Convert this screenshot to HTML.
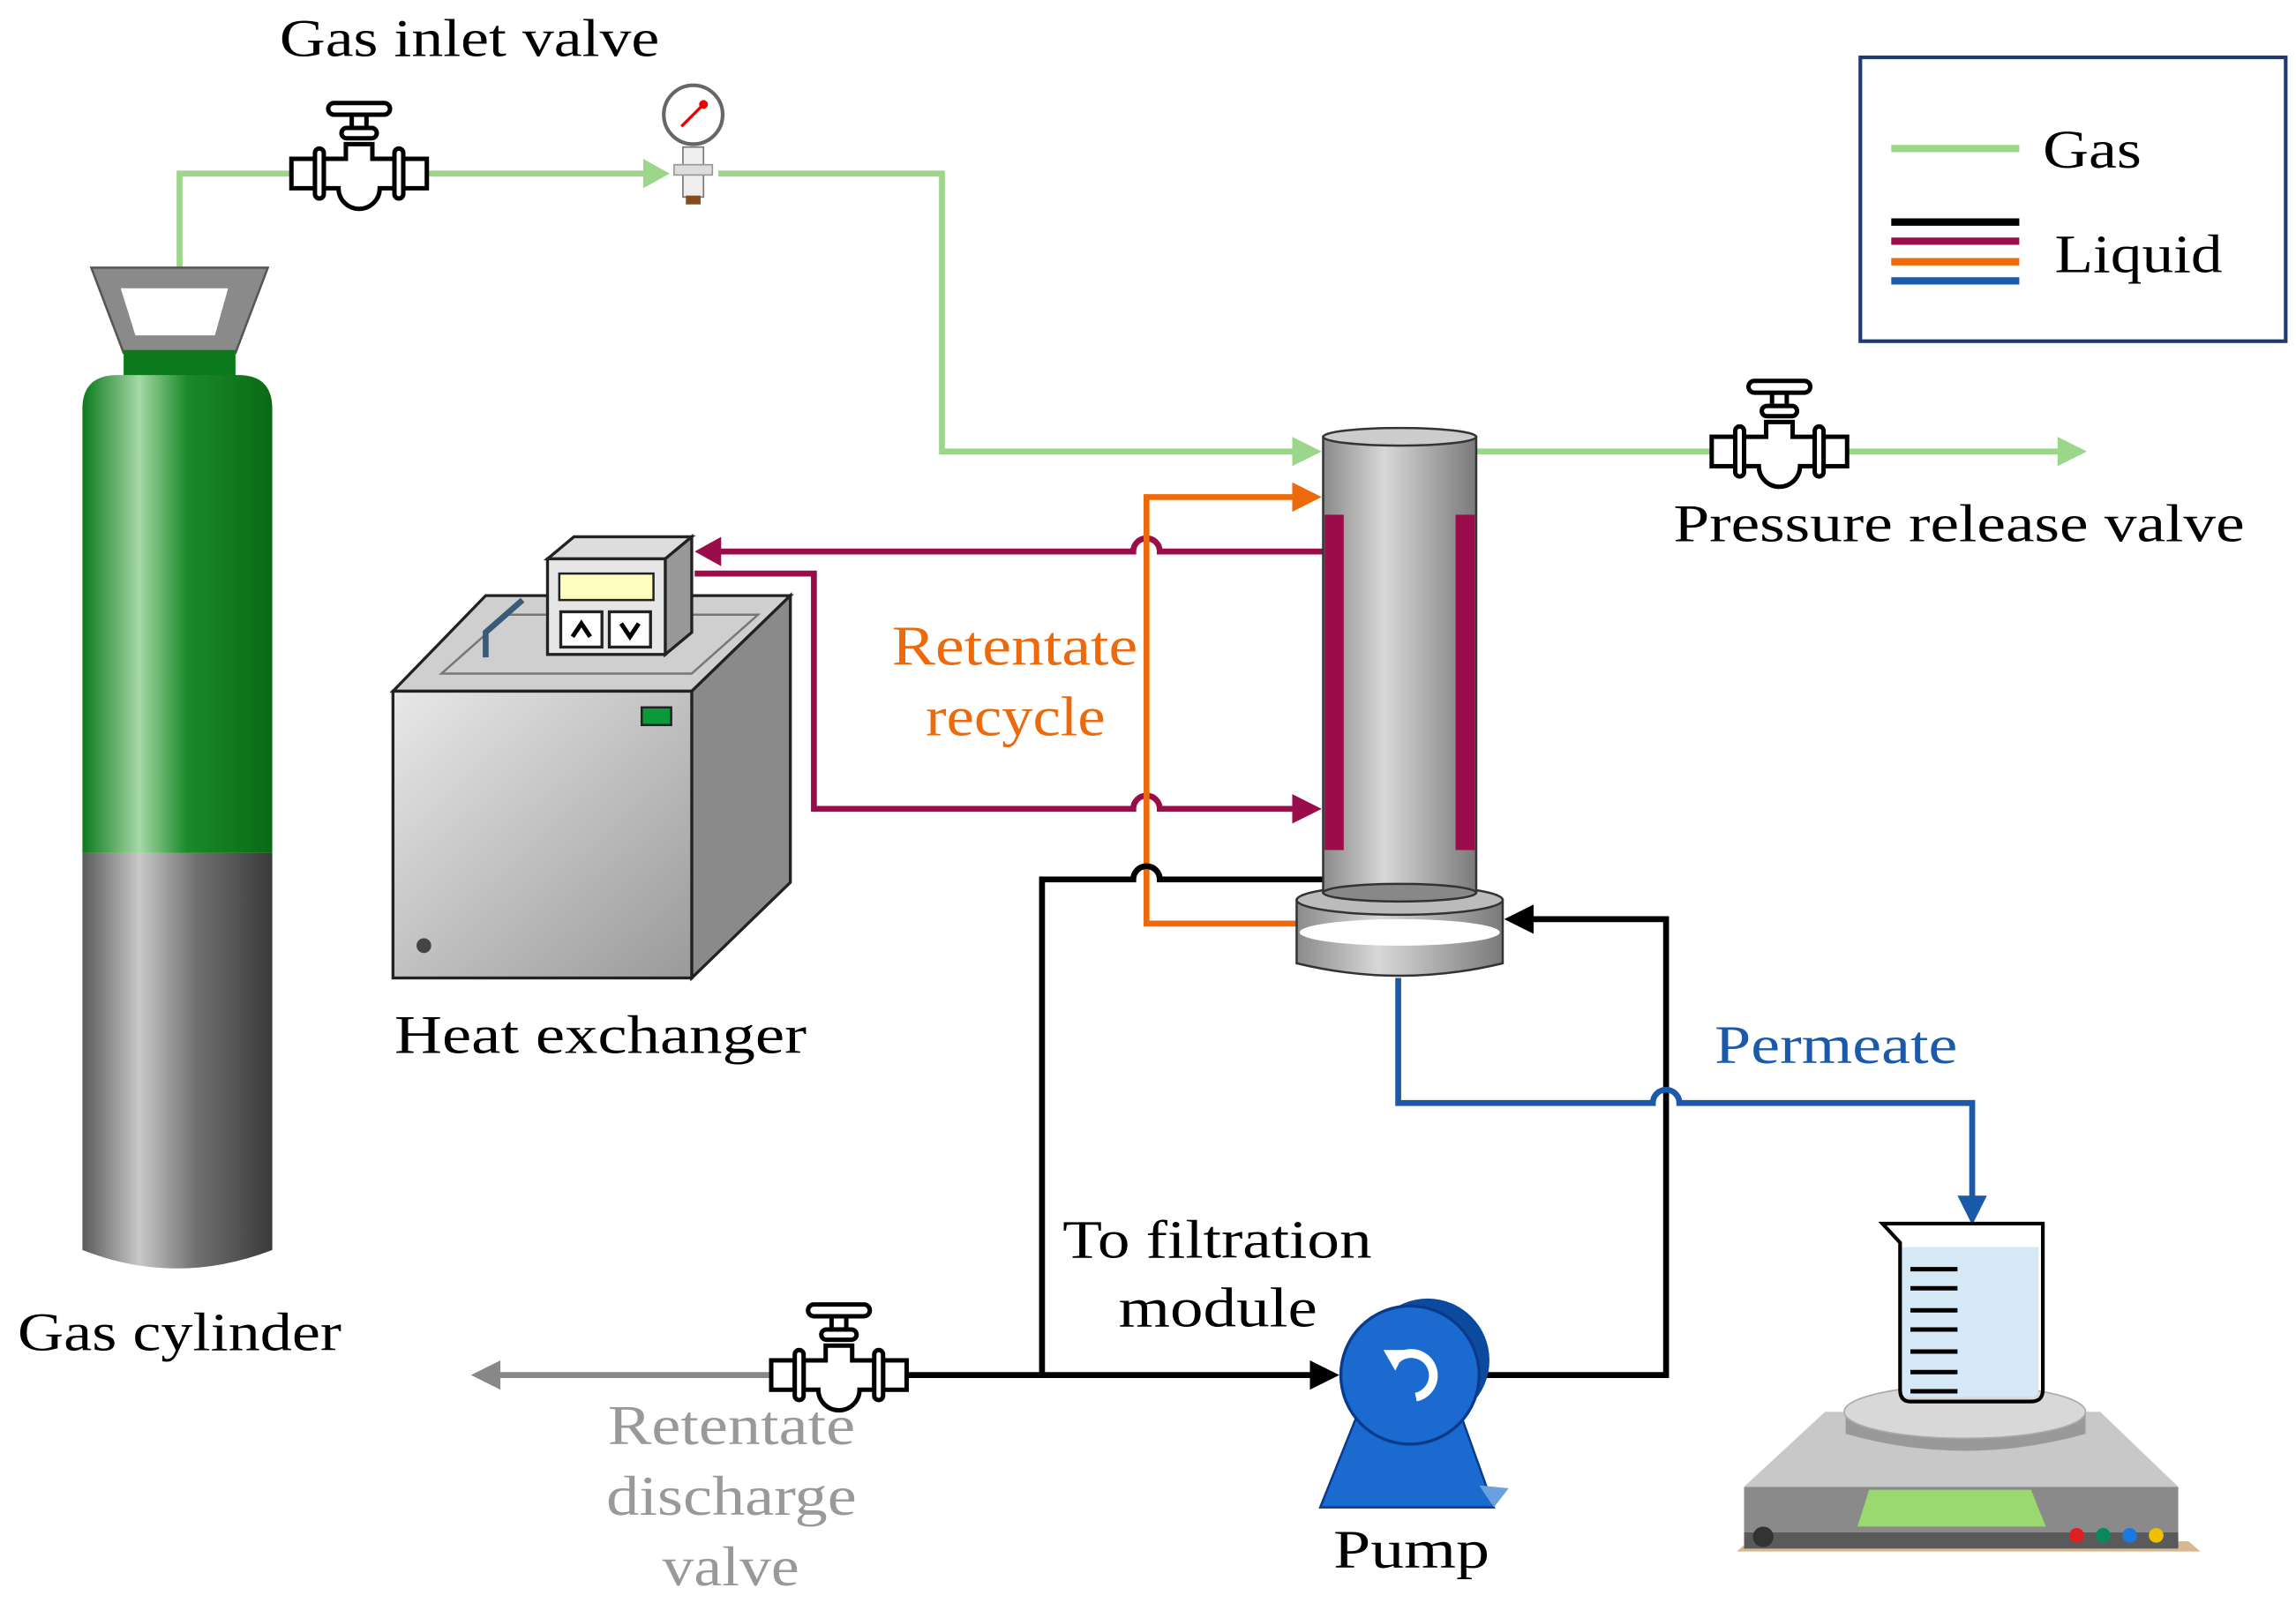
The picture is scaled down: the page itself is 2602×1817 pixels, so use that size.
<!DOCTYPE html>
<html><head><meta charset="utf-8"><style>
html,body{margin:0;padding:0;background:#fff;}
svg{display:block;}
text{font-family:"Liberation Serif",serif;}
</style></head><body>
<svg width="2602" height="1817" viewBox="0 0 1560 1090" preserveAspectRatio="none" xmlns="http://www.w3.org/2000/svg">
<defs>
<linearGradient id="gcyl" x1="0" x2="1" y1="0" y2="0">
<stop offset="0" stop-color="#0b7a1c"/><stop offset="0.3" stop-color="#a6d8a6"/><stop offset="0.55" stop-color="#1a8a2a"/><stop offset="1" stop-color="#0a6a14"/></linearGradient>
<linearGradient id="gray" x1="0" x2="1" y1="0" y2="0">
<stop offset="0" stop-color="#5a5a5a"/><stop offset="0.3" stop-color="#c8c8c8"/><stop offset="0.6" stop-color="#707070"/><stop offset="1" stop-color="#3a3a3a"/></linearGradient>
<linearGradient id="col" x1="0" x2="1" y1="0" y2="0">
<stop offset="0" stop-color="#8a8a8a"/><stop offset="0.4" stop-color="#d8d8d8"/><stop offset="1" stop-color="#7a7a7a"/></linearGradient>
<linearGradient id="hx" x1="0" x2="1" y1="0" y2="1">
<stop offset="0" stop-color="#e8e8e8"/><stop offset="1" stop-color="#9a9a9a"/></linearGradient>
<g id="valve" fill="#fff" stroke="#000" stroke-width="3">
<rect x="-46" y="-10" width="16" height="20"/>
<rect x="30" y="-10" width="16" height="20"/>
<path d="M-24,-10 L-9,-10 L-9,-20 L9,-20 L9,-10 L24,-10 L24,10 L14,10 A14,14 0 0 1 -14,10 L-24,10 Z"/>
<rect x="-30" y="-17" width="6" height="34" rx="3"/>
<rect x="24" y="-17" width="6" height="34" rx="3"/>
<rect x="-12" y="-31" width="24" height="7" rx="3.5"/>
<rect x="-5" y="-40" width="10" height="9"/>
<rect x="-21" y="-48" width="42" height="8" rx="4"/>
</g>
</defs>

<g stroke="#9bd68a" stroke-width="4" fill="none">
<polyline points="122,182 122,118 200,118"/>
<line x1="290" y1="118" x2="440" y2="118"/>
<polyline points="488,118 640,118 640,307 880,307"/>
<line x1="1003" y1="307" x2="1165" y2="307"/>
<line x1="1255" y1="307" x2="1400" y2="307"/>
</g>
<g fill="#9bd68a">
<polygon points="437,108 455,118 437,128"/>
<polygon points="878,297 898,307 878,317"/>
<polygon points="1398,297 1418,307 1398,317"/>
</g>
<use href="#valve" x="244" y="118"/>
<use href="#valve" x="1209" y="307"/>
<g>
<rect x="464" y="100" width="14" height="34" fill="#eee" stroke="#777" stroke-width="1"/>
<rect x="458" y="112" width="26" height="7" fill="#ddd" stroke="#999" stroke-width="1"/>
<rect x="466" y="133" width="10" height="6" fill="#8a4a1a"/>
<circle cx="471" cy="78" r="20" fill="#fff" stroke="#666" stroke-width="2.5"/>
<line x1="463" y1="86" x2="478" y2="71" stroke="#e00" stroke-width="2"/>
<circle cx="478" cy="71" r="3" fill="#e00"/>
</g>

<rect x="1264" y="39" width="289" height="193" fill="#fff" stroke="#1f3a6e" stroke-width="2.5"/>
<line x1="1285" y1="101" x2="1372" y2="101" stroke="#9bd68a" stroke-width="5"/>
<line x1="1285" y1="151" x2="1372" y2="151" stroke="#000" stroke-width="5"/>
<line x1="1285" y1="164" x2="1372" y2="164" stroke="#9b0c4a" stroke-width="5"/>
<line x1="1285" y1="178" x2="1372" y2="178" stroke="#ed6a0c" stroke-width="5"/>
<line x1="1285" y1="191" x2="1372" y2="191" stroke="#1a5aa8" stroke-width="5"/>
<text x="1388" y="114" font-size="37" textLength="67" lengthAdjust="spacingAndGlyphs">Gas</text>
<text x="1396" y="185" font-size="37" textLength="114" lengthAdjust="spacingAndGlyphs">Liquid</text>

<path d="M62,182 L182,182 L160,240 L84,240 Z" fill="#8a8a8a" stroke="#555" stroke-width="1.5"/>
<path d="M82,196 L155,196 L146,228 L92,228 Z" fill="#fff"/>
<rect x="84" y="238" width="76" height="18" fill="#0b7a1c"/>
<path d="M56,278 Q56,255 80,255 L162,255 Q185,255 185,278 L185,580 L56,580 Z" fill="url(#gcyl)"/>
<path d="M56,580 L185,580 L185,850 Q120,875 56,850 Z" fill="url(#gray)"/>

<polygon points="267,470 330,405 537,405 470,470" fill="#cfcfcf" stroke="#222" stroke-width="2"/>
<polygon points="300,458 345,418 515,418 470,458" fill="none" stroke="#777" stroke-width="1.5"/>
<polygon points="470,470 537,405 537,600 470,665" fill="#8a8a8a" stroke="#222" stroke-width="2"/>
<rect x="267" y="470" width="203" height="195" fill="url(#hx)" stroke="#222" stroke-width="2"/>
<rect x="436" y="481" width="20" height="12" fill="#0a9a3a" stroke="#222" stroke-width="1.5"/>
<circle cx="288" cy="643" r="5" fill="#444"/>
<path d="M330,447 L330,430 L355,408" stroke="#3a5a7a" stroke-width="4" fill="none"/>
<polygon points="372,380 390,365 470,365 452,380" fill="#ddd" stroke="#222" stroke-width="2"/>
<polygon points="452,380 470,365 470,430 452,445" fill="#999" stroke="#222" stroke-width="2"/>
<rect x="372" y="380" width="80" height="65" fill="#e6e6e6" stroke="#222" stroke-width="2"/>
<rect x="380" y="390" width="64" height="18" fill="#fffcc0" stroke="#222" stroke-width="1.5"/>
<rect x="381" y="416" width="28" height="24" fill="#fff" stroke="#222" stroke-width="2"/>
<rect x="414" y="416" width="28" height="24" fill="#fff" stroke="#222" stroke-width="2"/>
<path d="M389,433 L395,424 L401,433" stroke="#000" stroke-width="3" fill="none"/>
<path d="M422,424 L428,433 L434,424" stroke="#000" stroke-width="3" fill="none"/>

<g stroke="#9b0c4a" stroke-width="4" fill="none">
<path d="M899,375 L788,375 A9,9 0 0 0 770,375 L488,375"/>
<path d="M472,390 L553,390 L553,550 L770,550 A9,9 0 0 1 788,550 L880,550"/>
</g>
<polygon points="490,365 472,375 490,385" fill="#9b0c4a"/>
<polygon points="878,540 898,550 878,560" fill="#9b0c4a"/>

<g stroke="#ed6a0c" stroke-width="4" fill="none">
<polyline points="881,628 779,628 779,338 880,338"/>
</g>
<polygon points="878,328 898,338 878,348" fill="#ed6a0c"/>

<g stroke="#000" stroke-width="4" fill="none">
<path d="M899,598 L788,598 A9,9 0 0 0 770,598 L708,598 L708,935"/>
<line x1="615" y1="935" x2="892" y2="935"/>
<polyline points="1010,935 1132,935 1132,625 1040,625"/>
</g>
<polygon points="890,925 910,935 890,945" fill="#000"/>
<polygon points="1042,615 1022,625 1042,635" fill="#000"/>

<line x1="525" y1="935" x2="338" y2="935" stroke="#888" stroke-width="4"/>
<polygon points="340,925 320,935 340,945" fill="#888"/>
<use href="#valve" x="570" y="935"/>

<g stroke="#1a5aa8" stroke-width="4" fill="none">
<path d="M950,665 L950,750 L1123,750 A9,9 0 0 1 1141,750 L1340,750 L1340,815"/>
</g>
<polygon points="1330,813 1340,833 1350,813" fill="#1a5aa8"/>

<path d="M881,612 L1021,612 L1021,655 Q951,672 881,655 Z" fill="url(#col)" stroke="#333" stroke-width="1.5"/>
<ellipse cx="951" cy="612" rx="70" ry="10" fill="#bbb" stroke="#333" stroke-width="1.5"/>
<ellipse cx="951" cy="634" rx="68" ry="9" fill="#fff"/>
<rect x="899" y="297" width="104" height="310" fill="url(#col)" stroke="#333" stroke-width="1.5"/>
<ellipse cx="951" cy="607" rx="52" ry="6" fill="#888" stroke="#333" stroke-width="1.5"/>
<ellipse cx="951" cy="297" rx="52" ry="6" fill="#ccc" stroke="#333" stroke-width="1.5"/>
<rect x="900" y="350" width="13" height="228" fill="#9b0c4a"/>
<rect x="989" y="350" width="13" height="228" fill="#9b0c4a"/>

<polygon points="897,1025 1015,1025 990,955 925,955" fill="#1a6ad0" stroke="#0a3a8a" stroke-width="1.5"/>
<polygon points="1005,1010 1025,1012 1015,1025" fill="#6aa0e0"/>
<circle cx="970" cy="925" r="42" fill="#0c4aa0"/>
<circle cx="958" cy="935" r="47" fill="#1a6ad0" stroke="#0a3a8a" stroke-width="2"/>
<path d="M948,925 A15,15 0 1 1 962,950" stroke="#fff" stroke-width="6" fill="none"/>
<polygon points="940,918 955,918 948,932" fill="#fff"/>

<polygon points="1180,1055 1495,1055 1487,1048 1188,1048" fill="#d8b890"/>
<polygon points="1240,960 1427,960 1480,1011 1185,1011" fill="#c8c8c8"/>
<rect x="1185" y="1011" width="295" height="31" fill="#8a8a8a"/>
<rect x="1185" y="1042" width="295" height="11" fill="#5a5a5a"/>
<polygon points="1270,1013 1380,1013 1390,1038 1262,1038" fill="#9ad870"/>
<circle cx="1198" cy="1045" r="7" fill="#333"/>
<circle cx="1411" cy="1044" r="5" fill="#e02020"/>
<circle cx="1429" cy="1044" r="5" fill="#0a8a5a"/>
<circle cx="1447" cy="1044" r="5" fill="#1a7ae0"/>
<circle cx="1465" cy="1044" r="5" fill="#f0c000"/>
<path d="M1254,960 L1254,975 Q1335,998 1417,975 L1417,960 Z" fill="#999"/>
<ellipse cx="1335" cy="960" rx="82" ry="18" fill="#d8d8d8" stroke="#aaa" stroke-width="1"/>
<path d="M1292,848 L1385,848 L1385,945 Q1385,950 1380,950 L1296,950 Q1291,950 1291,945 Z" fill="#d4e8f6"/>
<path d="M1279,832 L1388,832 L1388,945 Q1388,953 1380,953 L1298,953 Q1291,953 1291,945 L1291,845 Z" fill="none" stroke="#000" stroke-width="2.5"/>
<g stroke="#000" stroke-width="3">
<line x1="1298" y1="863" x2="1330" y2="863"/><line x1="1298" y1="876" x2="1330" y2="876"/>
<line x1="1298" y1="891" x2="1330" y2="891"/><line x1="1298" y1="904" x2="1330" y2="904"/>
<line x1="1298" y1="919" x2="1330" y2="919"/><line x1="1298" y1="933" x2="1330" y2="933"/>
<line x1="1298" y1="946" x2="1330" y2="946"/>
</g>

<text x="190" y="38" font-size="36" textLength="258" lengthAdjust="spacingAndGlyphs">Gas inlet valve</text>
<text x="1137" y="368" font-size="36" textLength="388" lengthAdjust="spacingAndGlyphs">Pressure release valve</text>
<text x="606" y="452" font-size="38" fill="#ed6a0c" textLength="167" lengthAdjust="spacingAndGlyphs">Retentate</text>
<text x="629" y="500" font-size="38" fill="#ed6a0c" textLength="122" lengthAdjust="spacingAndGlyphs">recycle</text>
<text x="268" y="716" font-size="37" textLength="280" lengthAdjust="spacingAndGlyphs">Heat exchanger</text>
<text x="1165" y="723" font-size="37" fill="#1a5aa8" textLength="165" lengthAdjust="spacingAndGlyphs">Permeate</text>
<text x="722" y="855" font-size="37" textLength="210" lengthAdjust="spacingAndGlyphs">To filtration</text>
<text x="760" y="902" font-size="38" textLength="135" lengthAdjust="spacingAndGlyphs">module</text>
<text x="12" y="918" font-size="37" textLength="220" lengthAdjust="spacingAndGlyphs">Gas cylinder</text>
<text x="413" y="982" font-size="38" fill="#999" textLength="168" lengthAdjust="spacingAndGlyphs">Retentate</text>
<text x="412" y="1030" font-size="38" fill="#999" textLength="170" lengthAdjust="spacingAndGlyphs">discharge</text>
<text x="450" y="1078" font-size="38" fill="#999" textLength="93" lengthAdjust="spacingAndGlyphs">valve</text>
<text x="906" y="1066" font-size="37" textLength="106" lengthAdjust="spacingAndGlyphs">Pump</text>
</svg>
</body></html>
